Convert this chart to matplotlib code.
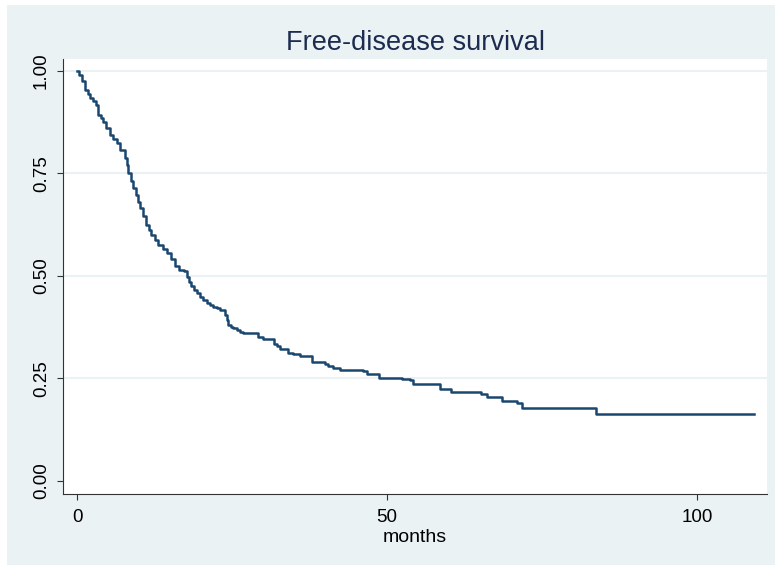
import matplotlib
matplotlib.use("Agg")
import matplotlib.pyplot as plt
from matplotlib.patches import Rectangle

plt.rcParams["font.family"] = ["Liberation Sans", "DejaVu Sans"]

# %% Data
months = [0, 0.4, 0.8, 1.3, 1.7, 2.1, 2.6, 3.06, 3.4, 3.8, 4.2, 4.7, 5.3, 5.8,
          6.4, 6.9, 7.7, 8.0, 8.3, 8.7, 9.1, 9.5, 9.9, 10.2, 10.7, 11.2, 11.6,
          12.0, 12.5, 13.1, 13.8, 14.5, 15.1, 15.8, 16.4, 17.3, 17.7, 18.0,
          18.4, 18.8, 19.3, 19.8, 20.3, 20.9, 21.5, 22.0, 22.6, 23.1, 23.9,
          24.2, 24.4, 24.8, 25.2, 25.8, 26.3, 26.8, 29.2, 30.0, 31.7, 32.2,
          32.7, 34.1, 34.9, 36.0, 37.9, 38.7, 40.0, 40.5, 41.3, 42.4, 46.2,
          46.8, 48.7, 52.4, 53.7, 54.2, 58.5, 60.3, 65.1, 66.1, 68.5, 70.9,
          71.7, 83.7, 109.2]
survival = [1.0, 0.99, 0.975, 0.954, 0.944, 0.934, 0.926, 0.917, 0.893, 0.885,
            0.876, 0.86, 0.844, 0.834, 0.824, 0.807, 0.787, 0.77, 0.750, 0.732,
            0.714, 0.697, 0.681, 0.665, 0.645, 0.624, 0.612, 0.600, 0.588,
            0.576, 0.566, 0.555, 0.540, 0.523, 0.515, 0.511, 0.498, 0.486,
            0.476, 0.466, 0.458, 0.449, 0.441, 0.433, 0.428, 0.425, 0.421,
            0.417, 0.405, 0.392, 0.380, 0.376, 0.372, 0.368, 0.364, 0.360,
            0.352, 0.346, 0.334, 0.328, 0.322, 0.313, 0.310, 0.305, 0.291,
            0.289, 0.285, 0.279, 0.276, 0.271, 0.267, 0.261, 0.252, 0.248,
            0.246, 0.237, 0.225, 0.218, 0.211, 0.204, 0.196, 0.189, 0.178,
            0.162, 0.162]

xticks = [0, 50, 100]
yticks = [0.0, 0.25, 0.5, 0.75, 1.0]

# %% Figure
W, H = 775, 569
fig = plt.figure(figsize=(W / 100, H / 100), dpi=100)
fig.patch.set_facecolor("white")
fig.patches.append(Rectangle((7 / W, 4 / H), (W - 7) / W, (565 - 5) / H,
                             transform=fig.transFigure, facecolor="#eaf2f3",
                             edgecolor="none", zorder=-5))

ax = fig.add_axes([63 / W, (H - 494) / H, (767 - 63) / W, (494 - 59) / H])
ax.set_zorder(2)
ax.set_facecolor("white")

for y in yticks[1:]:
    ax.axhline(y, color="#eaf2f3", lw=1.5, zorder=1)

ax.step(months, survival, where="post", color="#1a476f", lw=1.8, zorder=3)

ax.set_xlim(-2.26, 111.3)
ax.set_ylim(-0.032, 1.029)
ax.set_xticks(xticks)
ax.set_yticks(yticks)
ax.set_yticklabels([f"{v:.2f}" for v in yticks], rotation=90, va="center")
ax.tick_params(axis="both", direction="out", length=4.5, width=0.8,
               color="#333333", labelsize=13.5, labelcolor="black")
ax.tick_params(axis="y", pad=5)
ax.tick_params(axis="x", pad=6)

for side in ("top", "right"):
    ax.spines[side].set_visible(False)
for side in ("left", "bottom"):
    ax.spines[side].set_color("#333333")
    ax.spines[side].set_linewidth(0.8)

fig.text(415 / W, (H - 50) / H, "Free-disease survival", ha="center",
         va="baseline", fontsize=19.5, color="#1c2b4f", zorder=3)
fig.text(415 / W, (H - 537) / H, "months", ha="center", va="center",
         fontsize=14, color="black", zorder=3)

fig.savefig("out.png", dpi=100, facecolor=fig.get_facecolor())
